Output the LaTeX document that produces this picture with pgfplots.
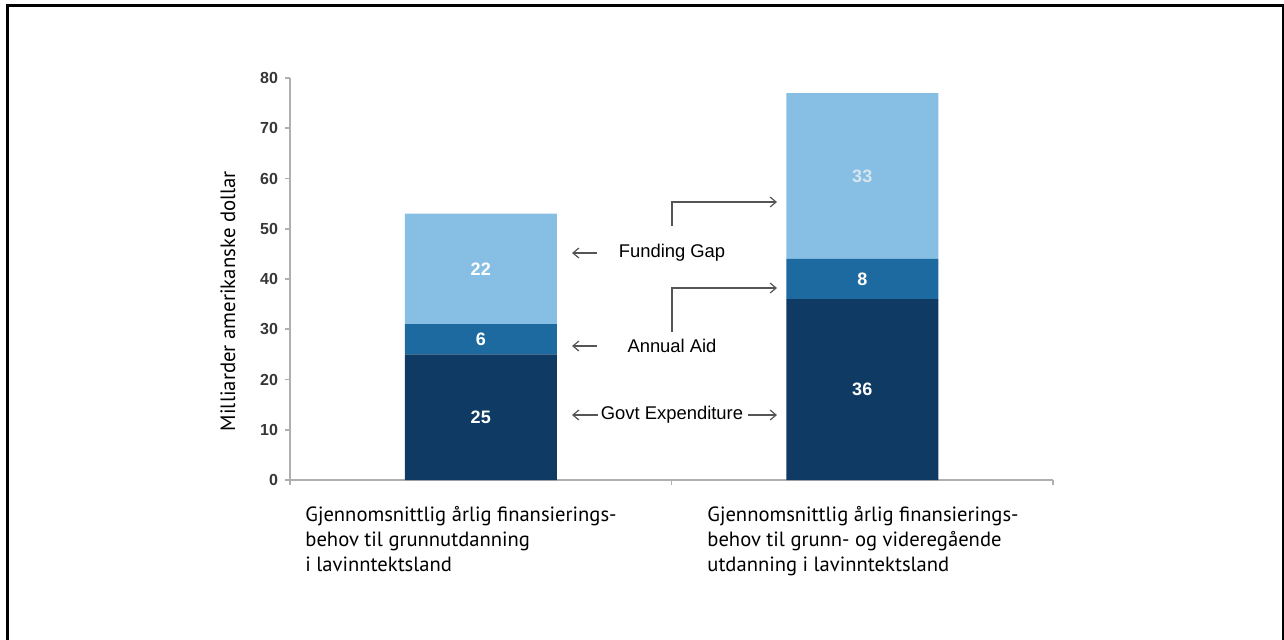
\documentclass[border=0pt]{standalone}
\usepackage{fontspec}
\setmainfont{Liberation Sans}
\newfontfamily\myriad{PT Sans}
\usepackage{pgfplots}
\pgfplotsset{compat=1.18}
\usetikzlibrary{arrows.meta}
\definecolor{c1}{RGB}{14,58,100}
\definecolor{c2}{RGB}{28,106,160}
\definecolor{c3}{RGB}{134,190,228}
\definecolor{axgray}{RGB}{175,175,175}
\definecolor{txt}{RGB}{55,55,55}
\definecolor{arr}{RGB}{85,85,85}
\tikzset{barlab/.style={font=\fontsize{9}{10}\selectfont\bfseries, text=white}}
\begin{document}
\begin{tikzpicture}
\useasboundingbox (0pt,0pt) rectangle (642pt,-319.5pt);
\draw[line width=1.5pt] (3.5pt,-330pt) -- (3.5pt,-2.5pt) -- (641.5pt,-2.5pt) -- (641.5pt,-330pt);
\begin{axis}[
 at={(145pt,-240pt)}, anchor=south west,
 scale only axis, width=381.5pt, height=201pt,
 ybar stacked, bar width=76pt,
 xmin=-0.5, xmax=1.5, ymin=0, ymax=80,
 axis x line*=bottom, axis y line*=left,
 axis line style={axgray, line width=0.8pt},
 xtick={-0.5,0.5,1.5}, xticklabels={},
 ytick={0,10,...,80},
 tick style={axgray, line width=0.8pt},
 tick align=outside, major tick length=2.5pt,
 yticklabel style={font=\fontsize{8}{9}\selectfont\bfseries, text=txt},
 /pgf/number format/assume math mode=true,
 clip=false,
]
\addplot[fill=c1, draw=none] coordinates {(0,25) (1,36)};
\addplot[fill=c2, draw=none] coordinates {(0,6) (1,8)};
\addplot[fill=c3, draw=none] coordinates {(0,22) (1,33)};
\coordinate (a1) at (axis cs:0,12.5);
\coordinate (a2) at (axis cs:0,28);
\coordinate (a3) at (axis cs:0,42);
\coordinate (b1) at (axis cs:1,18);
\coordinate (b2) at (axis cs:1,40);
\coordinate (b3) at (axis cs:1,60.5);
\end{axis}
\node[barlab] at (a1) {25};
\node[barlab] at (a2) {6};
\node[barlab] at (a3) {22};
\node[barlab] at (b1) {36};
\node[barlab] at (b2) {8};
\node[barlab, text={rgb,255:red,215;green,230;blue,240}] at (b3) {33};
\node[rotate=90, font=\myriad\fontsize{10.4}{12}\selectfont, text=black] at (114pt,-150.5pt) {Milliarder amerikanske dollar};
\node[anchor=north west, align=left, inner sep=0pt, font=\myriad\fontsize{10.3}{12.6}\selectfont] at (152.5pt,-253pt) {Gjennomsnittlig årlig finansierings-\\behov til grunnutdanning\\i lavinntektsland};
\node[anchor=north west, align=left, inner sep=0pt, font=\myriad\fontsize{10.3}{12.6}\selectfont] at (353.5pt,-253pt) {Gjennomsnittlig årlig finansierings-\\behov til grunn- og videregående\\utdanning i lavinntektsland};
\node[font=\fontsize{9.2}{10}\selectfont, inner sep=0pt] at (336pt,-126.5pt) {Funding Gap};
\node[font=\fontsize{9.2}{10}\selectfont, inner sep=0pt] at (336pt,-173pt) {Annual Aid};
\node[font=\fontsize{9.2}{10}\selectfont, inner sep=0pt] at (336pt,-207.5pt) {Govt Expenditure};
\begin{scope}[arr, line width=0.6pt, -{Straight Barb[length=3pt,width=5pt]}]
\draw (298.5pt,-126.5pt) -- (286pt,-126.5pt);
\draw (298.5pt,-173pt) -- (286pt,-173pt);
\draw (299pt,-207.5pt) -- (286pt,-207.5pt);
\draw (374pt,-207.5pt) -- (388.5pt,-207.5pt);
\draw (336pt,-113pt) -- (336pt,-101pt) -- (388.5pt,-101pt);
\draw (336pt,-166pt) -- (336pt,-144pt) -- (388.5pt,-144pt);
\end{scope}
\end{tikzpicture}
\end{document}
